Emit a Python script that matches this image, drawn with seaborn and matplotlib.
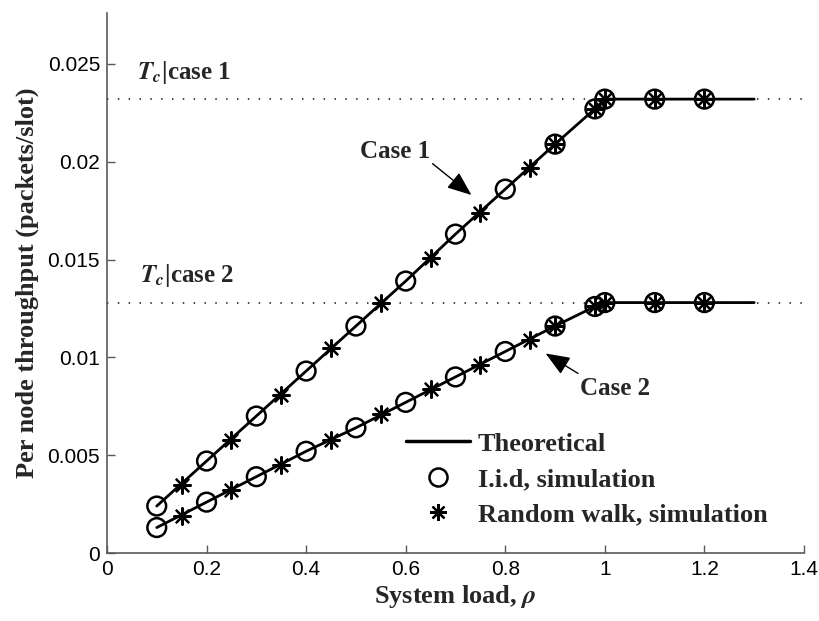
import matplotlib
matplotlib.use("Agg")
import matplotlib.pyplot as plt
from matplotlib.lines import Line2D
import numpy as np
import pandas as pd
import seaborn as sns

# ---- data -------------------------------------------------------------
load_theory = [0.1, 0.2, 0.3, 0.4, 0.5, 0.6, 0.7, 0.8, 0.9, 0.98, 1.0, 1.1, 1.2, 1.3]
theory_case1 = [0.0024, 0.0047, 0.0070, 0.0093, 0.0116, 0.0139, 0.0163, 0.0186,
                0.0209, 0.0227, 0.0232, 0.0232, 0.0232, 0.0232]
theory_case2 = [0.0013, 0.0026, 0.0039, 0.0052, 0.0064, 0.0077, 0.0090, 0.0103,
                0.0116, 0.0126, 0.0128, 0.0128, 0.0128, 0.0128]

load_iid = [0.1, 0.2, 0.3, 0.4, 0.5, 0.6, 0.7, 0.8, 0.9, 0.98, 1.0, 1.1, 1.2]
iid_case1 = [0.0024, 0.0047, 0.0070, 0.0093, 0.0116, 0.0139, 0.0163, 0.0186,
             0.0209, 0.0227, 0.0232, 0.0232, 0.0232]
iid_case2 = [0.0013, 0.0026, 0.0039, 0.0052, 0.0064, 0.0077, 0.0090, 0.0103,
             0.0116, 0.0126, 0.0128, 0.0128, 0.0128]

load_rw = [0.15, 0.25, 0.35, 0.45, 0.55, 0.65, 0.75, 0.85, 0.9, 0.98, 1.0, 1.1, 1.2]
rw_case1 = [0.0035, 0.0058, 0.0081, 0.0105, 0.0128, 0.0151, 0.0174, 0.0197,
            0.0209, 0.0227, 0.0232, 0.0232, 0.0232]
rw_case2 = [0.0019, 0.0032, 0.0045, 0.0058, 0.0071, 0.0084, 0.0096, 0.0109,
            0.0116, 0.0126, 0.0128, 0.0128, 0.0128]

capacity = {"case 1": 0.0232, "case 2": 0.0128}

x_ticks = [0, 0.2, 0.4, 0.6, 0.8, 1.0, 1.2, 1.4]
x_ticklabels = ["0", "0.2", "0.4", "0.6", "0.8", "1", "1.2", "1.4"]
y_ticks = [0, 0.005, 0.01, 0.015, 0.02, 0.025]
y_ticklabels = ["0", "0.005", "0.01", "0.015", "0.02", "0.025"]

# ---- style ------------------------------------------------------------
sns.set_style("ticks")
plt.rcParams["font.family"] = ["Liberation Sans", "DejaVu Sans"]
plt.rcParams["mathtext.fontset"] = "stix"
plt.rcParams["xtick.direction"] = "in"
plt.rcParams["ytick.direction"] = "in"

SERIF = ["Liberation Serif", "DejaVu Serif"]
AXIS_GREY = "0.35"

theory = pd.DataFrame({
    "load": load_theory * 2,
    "throughput": theory_case1 + theory_case2,
    "case": ["case 1"] * len(load_theory) + ["case 2"] * len(load_theory),
})
iid = pd.DataFrame({
    "load": load_iid * 2,
    "throughput": iid_case1 + iid_case2,
})
rw = pd.DataFrame({
    "load": load_rw * 2,
    "throughput": rw_case1 + rw_case2,
})

fig = plt.figure(figsize=(8.19, 6.21), dpi=100)
ax = fig.add_axes([0.1306, 0.1095, 0.8511, 0.8695])

# capacity reference lines
for tc in capacity.values():
    ax.axhline(tc, color="0.2", lw=1.3, ls=(0, (0.8, 5.2)), zorder=1)

# theoretical curves
sns.lineplot(data=theory, x="load", y="throughput", units="case", estimator=None,
             color="black", lw=2.0, ax=ax, zorder=3, legend=False)

# simulation markers
sns.scatterplot(data=iid, x="load", y="throughput", marker="o", s=13.5 ** 2,
                facecolors="none", edgecolor="black", linewidth=1.8,
                ax=ax, zorder=4, legend=False)
sns.scatterplot(data=rw, x="load", y="throughput", marker=(8, 2, 0), s=12 ** 2,
                color="black", linewidth=1.6, ax=ax, zorder=5, legend=False)

ax.set_xlim(0, 1.4)
ax.set_ylim(0, 0.0276)
ax.set_xticks(x_ticks)
ax.set_xticklabels(x_ticklabels)
ax.set_yticks(y_ticks)
ax.set_yticklabels(y_ticklabels)
ax.tick_params(axis="both", labelsize=15, length=6, width=1.0, color=AXIS_GREY,
               pad=5, labelcolor="black")

for side in ("top", "right"):
    ax.spines[side].set_visible(False)
for side in ("left", "bottom"):
    ax.spines[side].set_color(AXIS_GREY)
    ax.spines[side].set_linewidth(1.2)

ax.set_xlabel(r"System load, $\mathbfit{\rho}$", fontsize=19, fontweight="bold",
              family=SERIF, labelpad=3)
ax.set_ylabel("Per node throughput (packets/slot)", fontsize=19,
              fontweight="bold", family=SERIF, labelpad=6)

# capacity labels
ax.text(0.06, 0.02423, r"$\mathbfit{T}_{\mathbfit{c}}$|case 1", fontsize=18,
        fontweight="bold", family=SERIF, va="baseline", ha="left")
ax.text(0.066, 0.01385, r"$\mathbfit{T}_{\mathbfit{c}}$|case 2", fontsize=18,
        fontweight="bold", family=SERIF, va="baseline", ha="left")

# curve annotations
arrow_style = dict(arrowstyle="-|>,head_length=0.75,head_width=0.3",
                   color="black", lw=1.0, mutation_scale=20,
                   shrinkA=0, shrinkB=0)
ax.text(0.579, 0.0202, "Case 1", fontsize=18, fontweight="bold", family=SERIF,
        ha="center", va="baseline")
ax.annotate("", xy=(0.732, 0.0183), xytext=(0.654, 0.0199), arrowprops=arrow_style)
ax.text(1.020, 0.0081, "Case 2", fontsize=18, fontweight="bold", family=SERIF,
        ha="center", va="baseline")
ax.annotate("", xy=(0.881, 0.0102), xytext=(0.946, 0.00918), arrowprops=arrow_style)

# legend
handles = [
    Line2D([], [], color="black", lw=2.5),
    Line2D([], [], ls="none", marker="o", ms=13, mfc="none", mec="black", mew=1.8),
    Line2D([], [], ls="none", marker=(8, 2, 0), ms=12, color="black", mew=1.6),
]
labels = ["Theoretical", "I.i.d, simulation", "Random walk, simulation"]
ax.legend(handles, labels, loc="upper left", bbox_to_anchor=(0.429, 0.224),
          frameon=False, borderpad=0, borderaxespad=0, handlelength=2.42,
          handletextpad=0.3, labelspacing=0.45,
          prop={"family": SERIF, "weight": "bold", "size": 19})

fig.savefig("out.png", dpi=100)
